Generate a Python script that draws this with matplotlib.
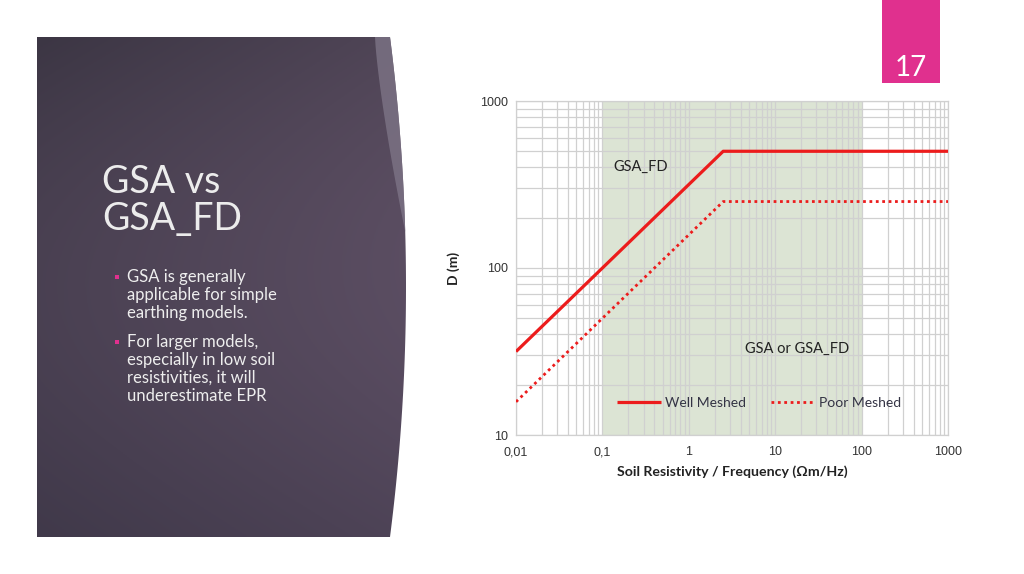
import numpy as np
import matplotlib
matplotlib.use("Agg")
import matplotlib.pyplot as plt
from matplotlib.patches import Rectangle, Polygon

# podaci sa grafika
x_vals = [0.01, 2.5, 1000]
well_meshed = [31.6, 500, 500]
poor_meshed = [15.8, 250, 250]
span_fd = (0.1, 100)

x_ticks = [0.01, 0.1, 1, 10, 100, 1000]
x_tick_labels = ["0,01", "0,1", "1", "10", "100", "1000"]
y_ticks = [10, 100, 1000]
y_tick_labels = ["10", "100", "1000"]

title_lines = ["GSA vs", "GSA_FD"]
bullets = [
    ["GSA is generally", "applicable for simple", "earthing models."],
    ["For larger models,", "especially in low soil", "resistivities, it will", "underestimate EPR"],
]
slide_no = "17"

W, H = 1024, 574
fig = plt.figure(figsize=(W / 100, H / 100), dpi=100)
fig.patch.set_facecolor("white")

## pozadina slajda ###################
bg = fig.add_axes([0, 0, 1, 1])
bg.set_xlim(0, W)
bg.set_ylim(H, 0)
bg.axis("off")

# desna ivica panela je kriva (kvadratni bezier)
tt = np.linspace(0, 1, 60)
p0, p1, p2 = np.array([390, 37]), np.array([422, 287]), np.array([390, 537])
curve = ((1 - tt) ** 2)[:, None] * p0 + (2 * tt * (1 - tt))[:, None] * p1 + (tt ** 2)[:, None] * p2

panel_pts = np.vstack([[[37, 37]], curve, [[37, 537]]])
panel = Polygon(panel_pts, closed=True, facecolor="none", edgecolor="none")
bg.add_patch(panel)

gx, gy = np.meshgrid(np.linspace(0, 1, 200), np.linspace(0, 1, 200))
top_left = np.array([60, 54, 68]) / 255
mid_right = np.array([94, 80, 100]) / 255
bottom = np.array([74, 64, 88]) / 255
t = np.clip(0.6 * gx + 0.4 * np.sin(np.pi * gy), 0, 1)[..., None]
img = top_left * (1 - t) + mid_right * t
img = img * (1 - 0.3 * gy[..., None]) + bottom * 0.3 * gy[..., None]
im = bg.imshow(img, extent=(37, 420, 537, 37), zorder=1)
im.set_clip_path(panel)

# svetla traka uz gornji deo ivice
n = 24
outer = curve[:n]
inner_t = np.linspace(0, 1, n)
inner = np.column_stack([375 + (outer[-1, 0] - 375) * inner_t ** 1.3,
                         37 + (outer[-1, 1] - 37) * inner_t])
sliver_pts = np.vstack([outer, inner[::-1]])
bg.add_patch(Polygon(sliver_pts, closed=True, facecolor="#7d7486",
                     edgecolor="none", alpha=0.8, zorder=2))

# roze kutija sa brojem slajda
bg.add_patch(Rectangle((882, 0), 58, 83, facecolor="#e0308e", edgecolor="none", zorder=2))
bg.text(911, 76, slide_no, color="white", fontsize=20, family="Lato",
        ha="center", va="baseline", zorder=3)

# naslov
for i, line in enumerate(title_lines):
    bg.text(102, 193 + i * 37, line, color="#ececec", fontsize=27, family="Lato",
            ha="left", va="baseline", zorder=3)

# tacke sa tekstom
y0 = 282
for group in bullets:
    bg.add_patch(Rectangle((115, y0 - 7), 3.5, 3.5, facecolor="#e0308e",
                           edgecolor="none", zorder=3))
    for line in group:
        bg.text(127, y0, line, color="#eeeeee", fontsize=12, family="Lato",
                ha="left", va="baseline", zorder=3)
        y0 += 18
    y0 += 11

## grafik ###################
ax = fig.add_axes([516 / W, 1 - 435 / H, 432 / W, 334 / H])
ax.set_xscale("log")
ax.set_yscale("log")
ax.set_xlim(0.01, 1000)
ax.set_ylim(10, 1000)

ax.grid(True, which="both", color="#d0d0d0", linewidth=0.9, zorder=0)
# zelena oblast preko mreze, da linije u njoj ispadnu tamnije
ax.axvspan(*span_fd, facecolor="#9bb284", alpha=0.35, edgecolor="none", zorder=1)

ax.plot(x_vals, well_meshed, "-", color="#ec1c1c", linewidth=2.3,
        label="Well Meshed", zorder=3, solid_capstyle="butt")
ax.plot(x_vals, poor_meshed, color="#ec1c1c", linewidth=2.0,
        linestyle=(0, (1, 1.3)), label="Poor Meshed", zorder=3)

ax.set_xticks(x_ticks)
ax.set_xticklabels(x_tick_labels)
ax.set_yticks(y_ticks)
ax.set_yticklabels(y_tick_labels)
ax.tick_params(which="both", length=0, labelsize=9, colors="#333333", pad=8)
ax.tick_params(axis="y", pad=6)
for lab in ax.get_xticklabels() + ax.get_yticklabels():
    lab.set_family("Liberation Sans")
for s in ax.spines.values():
    s.set_color("#d0d0d0")
    s.set_linewidth(0.9)

ax.set_xlabel("Soil Resistivity / Frequency (Ωm/Hz)", fontsize=10.2,
              weight="bold", family="Lato", color="#222222", labelpad=5)
ax.set_ylabel("D (m)", fontsize=10, weight="bold", family="Lato",
              color="#222222", labelpad=14)

ax.text(0.225, 0.802, "GSA_FD", transform=ax.transAxes, fontsize=10.5,
        family="Lato", color="#222222", ha="left", va="center", zorder=4)
ax.text(0.530, 0.257, "GSA or GSA_FD", transform=ax.transAxes, fontsize=10.5,
        family="Lato", color="#222222", ha="left", va="center", zorder=4)

leg = ax.legend(loc="center", bbox_to_anchor=(0.5625, 0.096), ncol=2,
                frameon=False, handlelength=3.2,
                handletextpad=0.25, columnspacing=1.8,
                prop={"family": "Lato", "size": 10})
for txt in leg.get_texts():
    txt.set_color("#333344")

fig.savefig("out.png", dpi=100, facecolor="white")
